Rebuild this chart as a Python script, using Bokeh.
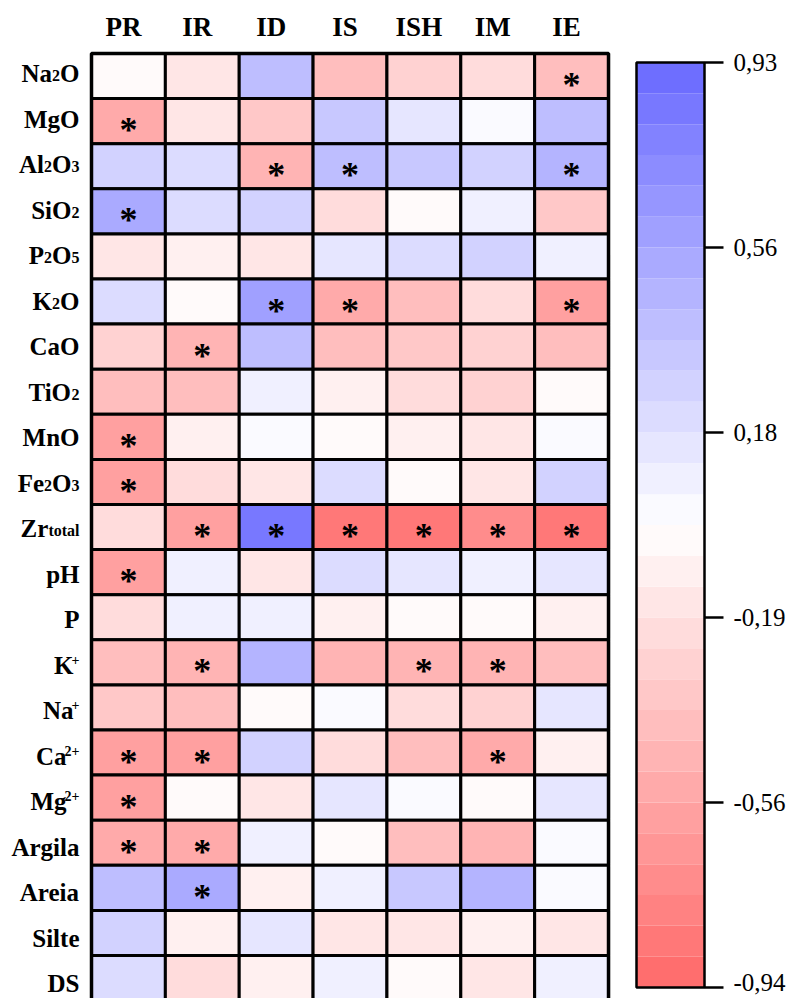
from bokeh.plotting import figure
from bokeh.models import Range1d, ColumnDataSource, LinearColorMapper
from bokeh.transform import transform
from bokeh.core.properties import value
from bokeh.embed import file_html
from bokeh.resources import INLINE

# ---------------- data ----------------
columns = ["PR", "IR", "ID", "IS", "ISH", "IM", "IE"]
rows = ["Na2O", "MgO", "Al2O3", "SiO2", "P2O5", "K2O", "CaO", "TiO2", "MnO", "Fe2O3",
        "Zr_total", "pH", "P", "K+", "Na+", "Ca2+", "Mg2+", "Argila", "Areia", "Silte", "DS"]

PR  = [-0.03, -0.55, 0.27, 0.55, -0.16, 0.23, -0.27, -0.42, -0.58, -0.58, -0.23, -0.58, -0.23, -0.41, -0.36, -0.62, -0.62, -0.55, 0.38, 0.27, 0.23]
IR  = [-0.17, -0.17, 0.23, 0.23, -0.10, -0.03, -0.48, -0.43, -0.11, -0.24, -0.62, 0.11, 0.11, -0.48, -0.38, -0.62, -0.03, -0.55, 0.55, -0.10, -0.23]
ID  = [0.41, -0.36, -0.50, 0.29, -0.16, 0.56, 0.41, 0.11, 0.05, -0.19, 0.86, -0.14, 0.10, 0.48, -0.03, 0.25, -0.16, 0.11, -0.10, 0.17, -0.10]
IS  = [-0.41, 0.36, 0.43, -0.24, 0.17, -0.55, -0.43, -0.10, -0.05, 0.23, -0.86, 0.19, -0.10, -0.46, 0.05, -0.23, 0.17, -0.03, 0.11, -0.17, 0.10]
ISH = [-0.27, 0.16, 0.36, -0.03, 0.23, -0.38, -0.36, -0.23, -0.10, -0.03, -0.82, 0.17, -0.03, -0.50, -0.24, -0.43, 0.05, -0.38, 0.36, -0.15, -0.03]
IM  = [-0.24, 0.05, 0.27, 0.10, 0.27, -0.24, -0.30, -0.27, -0.16, -0.17, -0.72, 0.10, -0.03, -0.48, -0.29, -0.55, -0.03, -0.48, 0.48, -0.10, -0.16]
IE  = [-0.41, 0.40, 0.48, -0.36, 0.10, -0.62, -0.43, -0.03, 0.05, 0.29, -0.86, 0.17, -0.11, -0.41, 0.17, -0.10, 0.17, 0.05, 0.05, -0.17, 0.10]

sig_PR  = ["MgO", "SiO2", "MnO", "Fe2O3", "pH", "Ca2+", "Mg2+", "Argila"]
sig_IR  = ["CaO", "Zr_total", "K+", "Ca2+", "Argila", "Areia"]
sig_ID  = ["Al2O3", "K2O", "Zr_total"]
sig_IS  = ["Al2O3", "K2O", "Zr_total"]
sig_ISH = ["Zr_total", "K+"]
sig_IM  = ["Zr_total", "K+", "Ca2+"]
sig_IE  = ["Na2O", "Al2O3", "K2O", "Zr_total"]

scale_low, scale_high = -0.94, 0.93
tick_labels = ["0,93", "0,56", "0,18", "-0,19", "-0,56", "-0,94"]

# row label pieces: (text, kind) kind: m=main, s=subscript, u=superscript
row_label_parts = {
    "Na2O": [("Na", "m"), ("2", "s"), ("O", "m")],
    "MgO": [("MgO", "m")],
    "Al2O3": [("Al", "m"), ("2", "s"), ("O", "m"), ("3", "s")],
    "SiO2": [("SiO", "m"), ("2", "s")],
    "P2O5": [("P", "m"), ("2", "s"), ("O", "m"), ("5", "s")],
    "K2O": [("K", "m"), ("2", "s"), ("O", "m")],
    "CaO": [("CaO", "m")],
    "TiO2": [("TiO", "m"), ("2", "s")],
    "MnO": [("MnO", "m")],
    "Fe2O3": [("Fe", "m"), ("2", "s"), ("O", "m"), ("3", "s")],
    "Zr_total": [("Zr", "m"), ("total", "s")],
    "pH": [("pH", "m")],
    "P": [("P", "m")],
    "K+": [("K", "m"), ("+", "u")],
    "Na+": [("Na", "m"), ("+", "u")],
    "Ca2+": [("Ca", "m"), ("2+", "u")],
    "Mg2+": [("Mg", "m"), ("2+", "u")],
    "Argila": [("Argila", "m")],
    "Areia": [("Areia", "m")],
    "Silte": [("Silte", "m")],
    "DS": [("DS", "m")],
}

# ---------------- layout (pixels) ----------------
W, H = 791, 998
X0, CW = 91.0, 73.86          # grid left, column width
YT, RH = 53.0, 45.1           # grid top, row height
NR, NC = len(rows), len(columns)
YB = YT + NR * RH
BASE_FIX = -8.5               # renderer baseline correction (px)
LBL_Y0, LBL_DY = 72.5, 45.5   # row-label vertical placement (px)

def dx(px):  # pixel x -> data x
    return (px - X0) / CW

def dy(py):  # pixel y -> data y
    return (YB - py) / RH

FONT = value("Liberation Serif")

p = figure(width=W, height=H, x_range=Range1d(dx(0), dx(W)), y_range=Range1d(dy(H), dy(0)),
           min_border=0, toolbar_location=None, output_backend="svg",
           x_axis_location=None, y_axis_location=None)
p.grid.visible = False
p.outline_line_color = None
p.background_fill_color = "white"

# palette: 30 steps red -> white -> blue
N = 30
palette = []
for i in range(N):
    t = (i + 0.5) / N
    k = abs(t - 0.5) / 0.5
    g = int(round(255 - 150 * k))
    palette.append("#%02x%02x%02x" % ((255, g, g) if t < 0.5 else (g, g, 255)))
mapper = LinearColorMapper(palette=palette, low=scale_low, high=scale_high)

# ---------------- cells ----------------
series = [PR, IR, ID, IS, ISH, IM, IE]
sigs = [sig_PR, sig_IR, sig_ID, sig_IS, sig_ISH, sig_IM, sig_IE]
cx, cy, cv = [], [], []
sx, sy = [], []
for j, (vals, sg) in enumerate(zip(series, sigs)):
    for r, v in enumerate(vals):
        cx.append(j + 0.5)
        cy.append(NR - r - 0.5)
        cv.append(v)
        if rows[r] in sg:
            sx.append(j + 0.5)
            sy.append(NR - r - 0.5)

cell_src = ColumnDataSource(dict(x=cx, y=cy, v=cv))
p.rect(x="x", y="y", width=1, height=1, source=cell_src,
       fill_color=transform("v", mapper), line_color="black", line_width=3)
p.rect(x=[NC / 2], y=[NR / 2], width=NC, height=NR, fill_color=None,
       line_color="black", line_width=3.5)

p.text(x=sx, y=sy, text=["*"] * len(sx), text_font=FONT, text_font_style="bold",
       text_font_size="36px", text_align="center", text_baseline="middle",
       y_offset=9, text_color="black")

# ---------------- column headers ----------------
p.text(x=[j + 0.5 for j in range(NC)], y=[dy(35)] * NC, text=columns, text_font=FONT,
       text_font_style="bold", text_font_size="27px", text_align="center",
       text_baseline="alphabetic", x_offset=-5, y_offset=BASE_FIX, text_color="black")

# ---------------- row labels ----------------
widths = {"N": 722, "a": 500, "O": 778, "M": 944, "g": 500, "A": 722, "l": 278, "S": 556,
          "i": 278, "P": 611, "K": 778, "C": 722, "T": 667, "n": 556, "F": 611, "e": 444,
          "Z": 667, "r": 444, "t": 333, "o": 500, "p": 556, "H": 778, "+": 570, "2": 500,
          "3": 500, "5": 500, "s": 389, "D": 722}
sizes = {"m": 25, "s": 16, "u": 14}
offs = {"m": 9.0, "s": 11.0, "u": 3.5}
kern = {"m": 0.0, "s": 0.0, "u": -2.0}
RIGHT = 79.0
parts = {k: dict(x=[], y=[], text=[]) for k in "msu"}
for r, key in enumerate(rows):
    segs = row_label_parts[key]
    seg_w = [sum(widths[c] for c in txt) / 1000.0 * sizes[k] + kern[k] for txt, k in segs]
    start = RIGHT - sum(seg_w)
    yc = dy(LBL_Y0 + LBL_DY * r)
    for (txt, k), w in zip(segs, seg_w):
        parts[k]["x"].append(dx(start + kern[k]))
        parts[k]["y"].append(yc)
        parts[k]["text"].append(txt)
        start += w
for k in "msu":
    p.text(x=parts[k]["x"], y=parts[k]["y"], text=parts[k]["text"], text_font=FONT,
           text_font_style="bold", text_font_size="%dpx" % sizes[k], text_align="left",
           text_baseline="alphabetic", y_offset=offs[k] + BASE_FIX, text_color="black")

# ---------------- colour bar ----------------
CB_L, CB_R, CB_T, CB_B = 636.0, 704.0, 62.0, 987.0

def vy(v):
    return dy(CB_B) + (v - scale_low) / (scale_high - scale_low) * (dy(CB_T) - dy(CB_B))

step = (scale_high - scale_low) / N
band_v = [scale_low + (i + 0.5) * step for i in range(N)]
band_src = ColumnDataSource(dict(
    v=band_v,
    bottom=[vy(scale_low + i * step) for i in range(N)],
    top=[vy(scale_low + (i + 1) * step) for i in range(N)]))
p.quad(left=dx(CB_L), right=dx(CB_R), bottom="bottom", top="top", source=band_src,
       fill_color=transform("v", mapper), line_color=None)
p.quad(left=[dx(CB_L)], right=[dx(CB_R)], bottom=[vy(scale_low)], top=[vy(scale_high)],
       fill_color=None, line_color="black", line_width=2.5)

tick_vals = [scale_high - k * (scale_high - scale_low) / 5 for k in range(6)]
p.segment(x0=[dx(CB_R)] * 6, x1=[dx(723)] * 6, y0=[vy(t) for t in tick_vals],
          y1=[vy(t) for t in tick_vals], line_color="black", line_width=2.5)
lbl_off = [8.5 + BASE_FIX] * 5 + [8.5 + BASE_FIX - 5]   # keep the last label inside the page
p.text(x=[dx(733)] * 6, y=[vy(t) for t in tick_vals], text=tick_labels, text_font=FONT,
       text_font_size="25px", text_align="left", text_baseline="alphabetic",
       y_offset=lbl_off, text_color="black")

open("out.html", "w").write(file_html(p, INLINE))
